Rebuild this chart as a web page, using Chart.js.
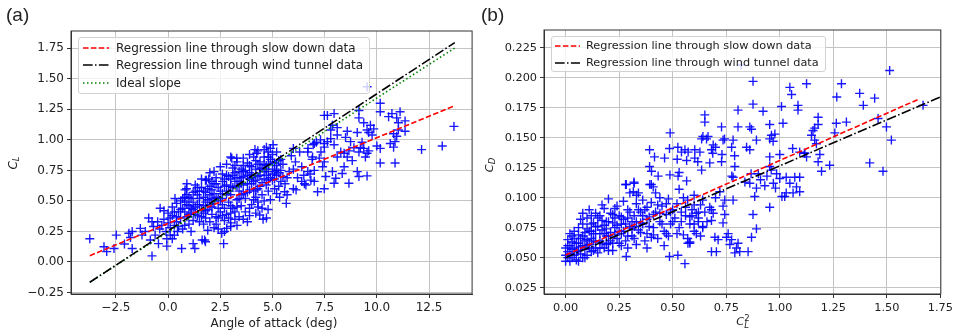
<!DOCTYPE html>
<html><head><meta charset="utf-8">
<script src="https://cdn.jsdelivr.net/npm/chart.js@4"></script>
<style>
body{margin:0;background:#fff;width:956px;height:336px;overflow:hidden;position:relative;font-family:"DejaVu Sans",sans-serif;color:#222}
canvas{position:absolute;top:0}
#ca{left:0}#cb{left:478px}
.t{position:absolute;white-space:nowrap;font-size:12px;transform:translate(-50%,-50%)}
.tb{font-size:11.3px}
.r{transform:translate(-50%,-50%) rotate(-90deg)}
.lab{position:absolute;font-family:"Liberation Sans",Arial,sans-serif;font-size:19px;color:#222;line-height:22px}
.leg{position:absolute;border:1px solid #d2d2d2;border-radius:3px;background:rgba(255,255,255,0.8);font-size:12px;box-sizing:border-box}
.legb{font-size:11.3px}
.row{position:absolute;left:0;height:16px;line-height:16px;white-space:nowrap}
.row svg{position:absolute;top:3px}
.row span{position:absolute}
sub{font-size:8.5px;vertical-align:-2px}
.ss{display:inline-block;vertical-align:-3px;font-size:8.5px;line-height:7px;text-align:left}
</style></head>
<body>
<canvas id="ca" width="478" height="336"></canvas>
<canvas id="cb" width="478" height="336"></canvas>
<div class="lab" style="left:6px;top:4px">(a)</div>
<div class="lab" style="left:481px;top:4px">(b)</div>
<div class="t" style="left:274px;top:323px">Angle of attack (deg)</div>
<div class="t r" style="left:13px;top:163px"><i>C</i><sub><i>L</i></sub></div>
<div class="t tb" style="left:743px;top:322px"><i>C</i><span class="ss">2<br><i>L</i></span></div>
<div class="t tb r" style="left:490px;top:165px"><i>C</i><sub><i>D</i></sub></div>
<div class="leg" style="left:78px;top:37px;width:292px;height:57px">
 <div class="row" style="top:2px"><svg width="26" height="10" style="left:4px"><line x1="0" y1="5" x2="26" y2="5" stroke="#ff0000" stroke-width="1.5" stroke-dasharray="5.5,2.4"/></svg><span style="left:37px">Regression line through slow down data</span></div>
 <div class="row" style="top:19px"><svg width="26" height="10" style="left:4px"><line x1="0" y1="5" x2="26" y2="5" stroke="#000" stroke-width="1.5" stroke-dasharray="9.6,2.4,1.5,2.4"/></svg><span style="left:37px">Regression line through wind tunnel data</span></div>
 <div class="row" style="top:37px"><svg width="26" height="10" style="left:4px"><line x1="0" y1="5" x2="26" y2="5" stroke="#008000" stroke-width="1.5" stroke-dasharray="1.5,2.5"/></svg><span style="left:37px">Ideal slope</span></div>
</div>
<div class="leg legb" style="left:551px;top:36px;width:275px;height:36px">
 <div class="row" style="top:1px"><svg width="25" height="10" style="left:3px"><line x1="0" y1="5" x2="25" y2="5" stroke="#ff0000" stroke-width="1.5" stroke-dasharray="5.5,2.4"/></svg><span style="left:34px">Regression line through slow down data</span></div>
 <div class="row" style="top:18px"><svg width="25" height="10" style="left:3px"><line x1="0" y1="5" x2="25" y2="5" stroke="#000" stroke-width="1.5" stroke-dasharray="9.6,2.4,1.5,2.4"/></svg><span style="left:34px">Regression line through wind tunnel data</span></div>
</div>
<script>
// ---- tick labels ----
const aoaTicks=[-2.5,0,2.5,5,7.5,10,12.5];
const clTicks=[-0.25,0,0.25,0.5,0.75,1,1.25,1.5,1.75];
const cl2Ticks=[0,0.25,0.5,0.75,1,1.25,1.5,1.75];
const cdTicks=[0.025,0.05,0.075,0.1,0.125,0.15,0.175,0.2,0.225];
// ---- regression / ideal lines (end points) ----
const slowLineA=[[-3.75,0.052],[13.73,1.28]];
const windLineA=[[-3.75,-0.166],[13.73,1.796]];
const idealLineA=[[-3.75,-0.165],[13.73,1.752]];
const slowLineB=[[0,0.0522],[1.647,0.182]];
const windLineB=[[0,0.050],[1.75,0.184]];
// ---- (a) angle of attack [deg] vs C_L ----
const liftPoints=[
[-3.75,0.19],[-3.07,0.125],[-2.94,0.085],[-2.59,0.11],[-2.48,0.22],[-1.88,0.235],[-1.72,0.25],[-1.8,0.2],[-2.09,0.147],[-1.72,0.11],[-1.33,0.275],[-1.25,0.22],[-1.09,0.25],[-0.93,0.36],[-0.77,0.33],[-0.7,0.29],[-0.77,0.05],[-0.38,0.44],[-0.62,0.22],[-0.46,0.15],[-0.85,0.18],[-0.06,0.13],[-0.06,0.19],[0.65,0.11],[1.28,0.11],[1.2,0.15],[1.75,0.18],[0.33,0.52],[0.41,0.48],[0.88,0.6],[0.81,0.59],[1.83,0.67],
[3.05,0.85],[3.29,0.85],[4.16,0.92],[4.24,0.89],[4.71,0.94],[5.03,0.96],[4.79,0.9],[1.79,0.67],[1.94,0.68],[4.39,0.385],[4.71,0.36],[4.55,0.35],[4.31,0.45],[4.79,0.43],[5.66,0.48],[5.34,0.53],[5.58,0.575],[6.13,0.59],[6.53,0.64],[6.84,0.67],[7.16,0.575],[7.48,0.6],[2.66,0.15],[2.57,0.235],[2.81,0.275],[1.63,0.18],[1.79,0.166],[7.48,1.2],[6.69,0.9],[6.92,0.86],[7.48,0.97],[6.69,0.74],[7.0,0.75],
[9.53,1.435],[10.16,1.3],[10.16,1.23],[9.14,1.24],[9.14,1.18],[7.63,1.2],[7.95,1.215],[7.87,1.12],[8.1,1.1],[7.79,1.08],[10.56,1.19],[10.72,1.215],[11.11,1.23],[10.95,1.18],[11.03,1.14],[11.35,1.155],[10.8,1.05],[10.95,1.03],[10.87,0.985],[10.8,0.94],[10.64,0.97],[11.03,1.08],[11.35,1.07],[10.16,0.93],[10.0,0.95],[10.16,0.81],[10.87,0.81],[12.14,0.92],[13.13,0.95],[13.69,1.11],[9.37,1.14],[9.69,1.12],[9.53,1.08],[9.85,1.09],[9.61,1.06],[9.77,1.04],[9.06,1.06],[9.29,0.98],[9.37,0.93],[9.53,0.89],[9.45,0.86],[9.61,0.91],[9.21,0.935],[9.14,0.9],[8.74,0.985],[8.9,0.935],[8.66,0.91],[8.58,0.86],[8.82,0.83],[9.06,0.74],[9.14,0.7],[9.53,0.705],[8.43,0.78],[8.34,0.725],[8.66,0.645],[8.03,0.685],[7.95,0.645],[7.87,0.74],[7.55,0.7],[8.1,1.04],[7.79,1.01],[7.63,0.985],[7.48,0.94],[7.32,0.9],[7.95,0.96],[8.27,0.9],[8.43,0.89],[8.1,0.86],[8.58,1.07],[8.5,1.02],[7.4,0.78],[7.48,0.82],[7.24,0.85],[7.1,0.98],[7.3,1.0],[6.95,0.96],
[-0.3,0.30],[-0.2,0.35],[-0.1,0.25],[0.0,0.32],[0.1,0.28],[0.2,0.38],[0.3,0.22],[0.4,0.33],[0.5,0.41],[0.0,0.40],[-0.4,0.27],[0.3,0.30],[0.2,0.19],[0.45,0.25],[0.1,0.36],
[0.6,0.36],[0.7,0.44],[0.8,0.30],[0.9,0.47],[1.0,0.39],[1.1,0.52],[1.2,0.34],[1.3,0.45],[1.4,0.55],[0.7,0.27],[0.9,0.55],[1.0,0.31],[1.2,0.43],[1.4,0.38],[0.6,0.50],[1.1,0.25],[0.8,0.41],[1.3,0.58],[1.5,0.47],[1.0,0.46],
[1.6,0.42],[1.7,0.53],[1.8,0.36],[1.9,0.60],[2.0,0.47],[2.1,0.39],[2.2,0.56],[2.3,0.64],[2.4,0.44],[1.6,0.61],[1.8,0.49],[2.0,0.33],[2.2,0.28],[2.4,0.52],[1.7,0.31],[2.1,0.66],[2.3,0.37],[1.9,0.43],[2.5,0.58],[2.0,0.55],[1.5,0.33],[2.2,0.48],
[2.6,0.47],[2.7,0.62],[2.8,0.39],[2.9,0.70],[3.0,0.55],[3.1,0.44],[3.2,0.66],[3.3,0.51],[3.4,0.74],[2.6,0.72],[2.8,0.56],[3.0,0.32],[3.2,0.41],[3.4,0.58],[2.7,0.34],[3.1,0.77],[3.3,0.62],[2.9,0.49],[3.5,0.46],[3.0,0.68],[2.5,0.41],[3.4,0.37],
[3.6,0.63],[3.7,0.52],[3.8,0.71],[3.9,0.44],[4.0,0.78],[4.1,0.58],[4.2,0.67],[4.3,0.49],[4.4,0.82],[3.6,0.79],[3.8,0.57],[4.0,0.64],[4.2,0.53],[4.4,0.71],[3.7,0.41],[4.1,0.86],[4.3,0.60],[3.9,0.68],[4.5,0.55],[4.0,0.47],
[4.6,0.74],[4.7,0.63],[4.8,0.80],[4.9,0.69],[5.0,0.76],[5.1,0.60],[5.2,0.71],[5.3,0.83],[5.4,0.66],[4.6,0.86],[4.8,0.58],[5.0,0.67],[5.2,0.56],[5.4,0.75],[4.7,0.79],[5.1,0.81],[5.3,0.62],[4.9,0.51],[5.5,0.70],[5.0,0.88],
[5.6,0.64],[5.8,0.74],[6.0,0.60],[6.2,0.69],[6.4,0.78],[6.6,0.63],[6.8,0.72],[7.0,0.66],[5.7,0.55],[6.1,0.82],[6.5,0.71],[6.9,0.84],[5.9,0.87],[6.3,0.90],[6.7,0.93],[7.0,0.97],
[2.2,0.74],[2.5,0.78],[2.8,0.80],[3.3,0.82],[3.6,0.85],[3.9,0.88],[4.3,0.91],[4.6,0.92],[4.9,0.93],[5.2,0.90],[3.0,0.86],[3.5,0.76],[1.3,0.63],[1.6,0.68],[0.9,0.64],[2.0,0.73],
[2.4,0.27],[2.7,0.25],[3.0,0.29],[3.3,0.30],[3.6,0.35],[3.9,0.38],[4.2,0.40],[4.5,0.44],[3.8,0.33],[2.9,0.36],
[0.2,0.45],[0.5,0.29],[0.7,0.52],[0.9,0.37],[1.1,0.44],[1.2,0.57],[1.4,0.47],[1.5,0.58],[1.6,0.37],[1.7,0.46],[1.8,0.57],[1.9,0.51],[2.0,0.62],[2.1,0.45],[2.2,0.64],[2.3,0.53],[2.4,0.61],[2.5,0.50],[2.6,0.56],[2.7,0.68],[2.8,0.63],[2.9,0.58],[3.0,0.46],[3.1,0.61],[3.2,0.73],[3.3,0.69],[3.4,0.52],[3.5,0.64],[3.6,0.70],[3.7,0.75],[3.8,0.64],[3.9,0.79],[4.0,0.71],[4.1,0.66],[4.2,0.76],[4.3,0.80],[4.4,0.62],[4.5,0.77],[4.6,0.68],[4.7,0.71],[4.8,0.74],[4.9,0.84],[5.0,0.72],[5.1,0.68],[5.2,0.79],[5.3,0.73],[0.3,0.41],[0.6,0.43],[0.8,0.49],[1.0,0.53],[1.3,0.39],[1.5,0.52],[1.8,0.42],[2.1,0.52],[2.4,0.36],[2.7,0.44],[3.0,0.40],[3.3,0.45],[3.6,0.56],[3.9,0.59],[4.2,0.59],[4.5,0.65],[4.8,0.67],[-0.2,0.42],[0.1,0.22],[0.4,0.37],[-0.5,0.33],[1.9,0.26],[2.3,0.31],[2.6,0.38],[3.2,0.35],[3.5,0.55],[4.1,0.51],[4.6,0.50],[5.5,0.80],[5.7,0.69],[6.0,0.76],[6.4,0.66],[6.0,0.93],
[2.6,0.66],[2.8,0.71],[3.0,0.62],[3.2,0.79],[3.4,0.66],[3.6,0.74],[3.8,0.81],[4.0,0.69],[4.2,0.83],[4.4,0.76],[4.6,0.80],[4.8,0.86],[5.0,0.82],[5.2,0.75],[5.4,0.84],[3.1,0.71],[3.5,0.69],[3.9,0.73],[4.3,0.70],[4.7,0.76],[5.1,0.74],[1.2,0.49],[1.4,0.61],[1.7,0.58],[2.1,0.59],[2.3,0.69],[0.8,0.53],[1.1,0.40],[1.7,0.40],[2.6,0.52]
];
// ---- (b) C_L^2 vs C_D ----
const dragPoints=[
[0.00,0.047],[0.01,0.055],[0.02,0.060],[0.00,0.052],[0.03,0.050],[0.01,0.065],[0.04,0.058],[0.02,0.070],[0.05,0.048],[0.03,0.063],[0.00,0.058],[0.04,0.072],[0.05,0.055],
[0.06,0.062],[0.07,0.053],[0.08,0.068],[0.09,0.057],[0.10,0.074],[0.11,0.061],[0.12,0.066],[0.13,0.079],[0.14,0.058],[0.06,0.075],[0.08,0.050],[0.10,0.083],[0.12,0.055],[0.14,0.070],[0.07,0.082],[0.09,0.064],[0.11,0.090],[0.13,0.064],[0.15,0.076],[0.06,0.047],[0.08,0.078],[0.10,0.060],[0.12,0.072],[0.14,0.087],
[0.16,0.064],[0.17,0.073],[0.18,0.058],[0.19,0.080],[0.20,0.068],[0.21,0.087],[0.22,0.062],[0.23,0.075],[0.24,0.093],[0.16,0.085],[0.18,0.070],[0.20,0.056],[0.22,0.079],[0.24,0.066],[0.17,0.094],[0.19,0.061],[0.21,0.071],[0.23,0.083],[0.25,0.072],[0.15,0.054],[0.20,0.099],[0.18,0.091],
[0.26,0.070],[0.27,0.082],[0.28,0.064],[0.29,0.090],[0.30,0.076],[0.31,0.068],[0.32,0.085],[0.33,0.095],[0.34,0.073],[0.27,0.097],[0.29,0.058],[0.31,0.080],[0.33,0.061],[0.35,0.088],[0.28,0.111],[0.32,0.112],[0.26,0.060],[0.30,0.104],[0.34,0.104],
[0.36,0.078],[0.37,0.090],[0.38,0.070],[0.39,0.084],[0.40,0.096],[0.41,0.075],[0.42,0.088],[0.43,0.066],[0.44,0.080],[0.45,0.093],[0.46,0.072],[0.47,0.086],[0.48,0.099],[0.49,0.078],[0.50,0.090],[0.38,0.058],[0.42,0.104],[0.46,0.060],[0.40,0.067],[0.44,0.100],[0.48,0.068],[0.36,0.098],
[0.51,0.083],[0.52,0.095],[0.53,0.075],[0.54,0.088],[0.55,0.069],[0.56,0.085],[0.57,0.098],[0.58,0.078],[0.59,0.090],[0.60,0.072],[0.61,0.087],[0.62,0.080],[0.63,0.094],[0.64,0.076],[0.65,0.088],[0.53,0.107],[0.57,0.066],[0.60,0.102],[0.63,0.068],[0.55,0.100],[0.58,0.063],
[0.01,0.050],[0.02,0.053],[0.03,0.057],[0.04,0.052],[0.05,0.062],[0.06,0.056],[0.07,0.066],[0.08,0.060],[0.09,0.071],[0.10,0.065],[0.11,0.058],[0.12,0.078],[0.13,0.070],[0.14,0.063],[0.15,0.083],[0.16,0.070],[0.17,0.062],[0.18,0.077],[0.19,0.068],[0.20,0.080],[0.21,0.064],[0.22,0.086],[0.23,0.069],[0.24,0.077],[0.25,0.062],[0.26,0.084],[0.27,0.072],[0.28,0.078],[0.29,0.068],[0.30,0.088],[0.31,0.074],[0.32,0.066],[0.33,0.080],[0.34,0.090],[0.35,0.071],[0.36,0.085],[0.37,0.064],[0.38,0.092],[0.39,0.076],[0.41,0.086],[0.43,0.094],[0.45,0.078],[0.47,0.070],[0.49,0.088],[0.02,0.047],[0.04,0.066],[0.07,0.059],[0.09,0.050],[0.11,0.072],[0.13,0.056],[0.16,0.058],[0.19,0.074],[0.22,0.056],[0.25,0.085],[0.01,0.060],[0.03,0.068],[0.06,0.069],[0.08,0.087],[0.10,0.052],[0.12,0.085],[0.14,0.076],[0.17,0.081],[0.20,0.062],[0.23,0.091],[0.26,0.078],[0.29,0.083],[0.32,0.076],[0.35,0.079],[0.38,0.082],[0.41,0.069],[0.44,0.087],[0.47,0.095],[0.50,0.080],[0.52,0.070],[0.54,0.080],[0.56,0.092],[0.58,0.084],[0.60,0.094],[0.62,0.088],[0.64,0.098],
[0.392,0.14],[0.415,0.134],[0.392,0.126],[0.40,0.111],[0.283,0.111],[0.319,0.113],[0.462,0.133],[0.485,0.141],[0.488,0.154],[0.524,0.142],[0.521,0.132],[0.53,0.121],[0.565,0.114],[0.401,0.122],[0.432,0.118],[0.487,0.119],[0.525,0.118],[0.393,0.111],[0.409,0.109],[0.316,0.105],[0.331,0.102],[0.557,0.14],[0.541,0.138],[0.572,0.138],[0.603,0.14],[0.627,0.138],[0.565,0.131],[0.603,0.133],[0.617,0.13],[0.635,0.149],[0.658,0.149],[0.65,0.169],[0.65,0.163],[0.641,0.151],[0.665,0.151],[0.689,0.144],[0.681,0.14],[0.728,0.159],[0.735,0.148],[0.742,0.149],[0.70,0.142],[0.687,0.137],[0.73,0.136],[0.728,0.13],[0.782,0.148],[0.775,0.142],[0.789,0.135],[0.79,0.126],[0.805,0.173],[0.805,0.159],[0.845,0.142],[0.86,0.14],[0.86,0.159],[0.868,0.157],[0.875,0.197],[0.875,0.178],[0.922,0.172],[0.891,0.148],[0.635,0.123],[0.673,0.129],[0.782,0.117],[0.776,0.118],[0.866,0.12],[0.82,0.2106],
[0.953,0.161],[0.961,0.152],[0.977,0.153],[1.015,0.162],[0.953,0.149],[0.969,0.147],[1.008,0.176],[1.047,0.192],[1.055,0.186],[1.085,0.177],[1.085,0.173],[0.953,0.134],[0.953,0.126],[0.985,0.12],[1.0,0.136],[1.06,0.141],[1.115,0.137],[1.513,0.206],[1.125,0.195],[1.288,0.195],[1.373,0.187],[1.443,0.183],[1.39,0.177],[1.266,0.184],[1.179,0.167],[1.179,0.161],[1.163,0.158],[1.155,0.156],[1.148,0.152],[1.163,0.148],[1.171,0.145],[1.264,0.162],[1.311,0.163],[1.257,0.154],[1.459,0.166],[1.498,0.159],[1.521,0.148],[1.669,0.177],[1.093,0.138],[1.117,0.137],[1.125,0.134],[1.187,0.136],[1.179,0.13],[1.195,0.122],[1.233,0.127],[1.42,0.129],[1.482,0.122],[1.093,0.117],[1.093,0.105],
[0.91,0.115],[0.94,0.118],[0.97,0.112],[1.0,0.116],[1.03,0.117],[1.07,0.117],[1.047,0.112],[1.078,0.109],[1.03,0.104],[1.023,0.101],[1.062,0.104],[0.953,0.092],[0.98,0.108],[0.93,0.11],[1.01,0.101],[0.96,0.123],[0.9,0.12],
[0.782,0.098],[0.891,0.108],[0.86,0.112],[0.837,0.113],[0.883,0.101],[0.743,0.098],[0.735,0.093],[0.875,0.086],[0.891,0.074],[0.868,0.067],[0.852,0.055],[0.805,0.062],[0.813,0.055],[0.79,0.054],[0.798,0.058],[0.759,0.07],[0.751,0.067],[0.775,0.065],[0.767,0.061],[0.697,0.067],[0.712,0.065],[0.704,0.055],[0.681,0.055],[0.735,0.079],[0.743,0.086],[0.689,0.087],[0.681,0.09],[0.673,0.092],[0.681,0.081],[0.58,0.062],[0.557,0.045],[0.524,0.052],[0.485,0.051],[0.571,0.062],[0.283,0.051],[0.60,0.078],[0.62,0.083],[0.59,0.085],[0.64,0.075],[0.61,0.07],[0.66,0.08],[0.70,0.1],[0.72,0.105]
];

const FONT='"DejaVu Sans", sans-serif';
const xy=a=>a.map(([x,y])=>({x,y}));
function makeFormatter(dec){
  return function(value){
    const s=Math.abs(Number(value)).toFixed(dec);
    return (Number(value)<0?'\u2212':'')+s;
  };
}
function axis(min,max,ticks,dec,isY,size,fs){
  return {type:'linear',min,max,
    afterBuildTicks:s=>{s.ticks=ticks.map(v=>({value:v}));},
    afterFit:s=>{if(isY)s.width=size;else s.height=size;},
    grid:{color:'#c4c4c4',lineWidth:1,tickColor:'#333',tickLength:4},
    border:{color:'#333',width:1},
    ticks:{callback:makeFormatter(dec),font:{family:FONT,size:fs},color:'#222',padding:3,maxRotation:0,autoSkip:false}};
}
const frame={id:'frame',afterDraw(c){const {ctx,chartArea:a}=c;ctx.save();ctx.strokeStyle='#333';ctx.lineWidth=1;ctx.strokeRect(a.left,a.top,a.right-a.left,a.bottom-a.top);ctx.restore();}};
const lineDs=(pts,color,dash)=>({data:xy(pts),showLine:true,borderColor:color,borderWidth:1.6,borderDash:dash,pointRadius:0,fill:false});
const ptsDs=pts=>({data:xy(pts),showLine:false,pointStyle:'cross',pointRadius:4.5,pointBorderColor:'rgba(0,0,255,0.9)',pointBackgroundColor:'rgba(0,0,255,0.9)',pointBorderWidth:1.4});
function make(id,datasets,xs,ys,pad){
  new Chart(document.getElementById(id),{type:'scatter',data:{datasets},
    options:{responsive:false,animation:false,devicePixelRatio:1,events:[],
      layout:{padding:pad},
      plugins:{legend:{display:false},tooltip:{enabled:false}},
      scales:{x:xs,y:ys}},plugins:[frame]});
}
make('ca',[lineDs(slowLineA,'#ff0000',[5.5,2.4]),lineDs(windLineA,'#000000',[9.6,2.4,1.5,2.4]),lineDs(idealLineA,'#008000',[1.5,2.5]),ptsDs(liftPoints)],
  axis(-4.65,14.56,aoaTicks,1,false,42,12),axis(-0.262,1.891,clTicks,2,true,71,12),{left:0,right:2,top:31,bottom:0});
make('cb',[lineDs(slowLineB,'#ff0000',[5.5,2.4]),lineDs(windLineB,'#000000',[9.6,2.4,1.5,2.4]),ptsDs(dragPoints)],
  axis(-0.101,1.752,cl2Ticks,2,false,42,11.3),axis(0.0197,0.2398,cdTicks,3,true,66,11.3),{left:0,right:15,top:30,bottom:0});
</script>
</body></html>
